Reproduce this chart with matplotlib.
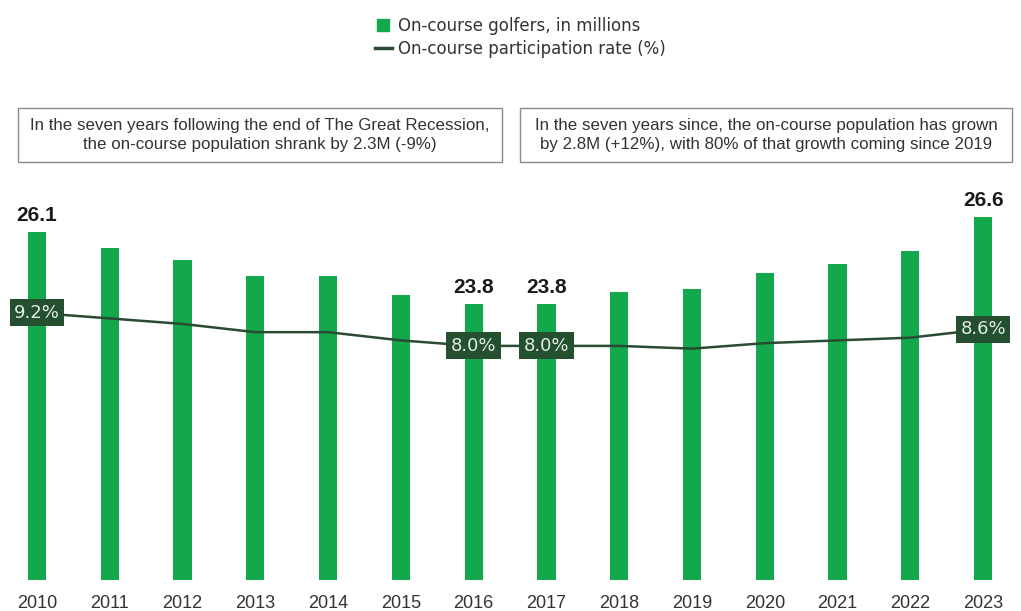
import matplotlib.pyplot as plt
from matplotlib.lines import Line2D
from matplotlib.patches import Rectangle

years = ["2010", "2011", "2012", "2013", "2014", "2015", "2016",
         "2017", "2018", "2019", "2020", "2021", "2022", "2023"]
golfers = [26.1, 25.6, 25.2, 24.7, 24.7, 24.1, 23.8,
           23.8, 24.2, 24.3, 24.8, 25.1, 25.5, 26.6]
rate = [9.2, 9.0, 8.8, 8.5, 8.5, 8.2, 8.0,
        8.0, 8.0, 7.9, 8.1, 8.2, 8.3, 8.6]
bar_labels = {0: "26.1", 6: "23.8", 7: "23.8", 13: "26.6"}
rate_labels = {0: "9.2%", 6: "8.0%", 7: "8.0%", 13: "8.6%"}
notes = [
    "In the seven years following the end of The Great Recession,\nthe on-course population shrank by 2.3M (-9%)",
    "In the seven years since, the on-course population has grown\nby 2.8M (+12%), with 80% of that growth coming since 2019",
]

bar_color = "#13a84b"
line_color = "#2b4a33"
box_color = "#24502f"
text_color = "#333333"
narrow = ["Liberation Sans", "DejaVu Sans"]

W, H = 1021, 611
fig = plt.figure(figsize=(W / 100, H / 100), dpi=100)
ax = fig.add_axes([0, 31 / H, 1, 380 / H])
x = list(range(len(years)))

ax.bar(x, golfers, width=0.25, color=bar_color, zorder=1)
ax.set_xlim(-0.508, 13.52)
ax.set_ylim(15.0, 27.13)
ax.set_yticks([])
ax.set_xticks(x)
ax.set_xticklabels(years, family=narrow, fontsize=13, color=text_color)
ax.tick_params(axis="x", length=0, pad=11)
for s in ax.spines.values():
    s.set_visible(False)

for i, lab in bar_labels.items():
    ax.annotate(lab, (i, golfers[i]), xytext=(0, 5), textcoords="offset points",
                ha="center", va="bottom", fontsize=15, fontweight="bold",
                family=narrow, color="#1a1a1a")

ax2 = ax.twinx()
ax2.set_ylim(-0.52, 13.31)
ax2.set_yticks([])
for s in ax2.spines.values():
    s.set_visible(False)
ax2.plot(x, rate, color=line_color, lw=1.8, zorder=2)
for i, lab in rate_labels.items():
    ax2.text(i, rate[i], lab, ha="center", va="center", fontsize=13,
             color="#e4ece6", zorder=3,
             bbox=dict(boxstyle="square,pad=0.25", fc=box_color, ec="none"))

# annotation boxes
for j, (x0, x1) in enumerate([(18, 502), (520, 1012)]):
    fig.patches.append(Rectangle((x0 / W, 1 - 162 / H), (x1 - x0) / W, 54 / H,
                                 transform=fig.transFigure, fill=False,
                                 ec="#8a8a8a", lw=1.0))
    fig.text((x0 + x1) / 2 / W, 1 - 135 / H, notes[j], ha="center", va="center",
             family=narrow, fontsize=12.2, color=text_color, linespacing=1.4)

handles = [
    Line2D([], [], marker="s", ls="none", color=bar_color, markersize=9),
    Line2D([], [], color=line_color, lw=2.5),
]
fig.legend(handles, ["On-course golfers, in millions", "On-course participation rate (%)"],
           loc="upper left", bbox_to_anchor=(360 / W, 1 - 2 / H), frameon=False,
           fontsize=12, handlelength=1.0, handletextpad=0.4, labelspacing=0.3,
           labelcolor=text_color)

fig.savefig("out.png", dpi=100)
